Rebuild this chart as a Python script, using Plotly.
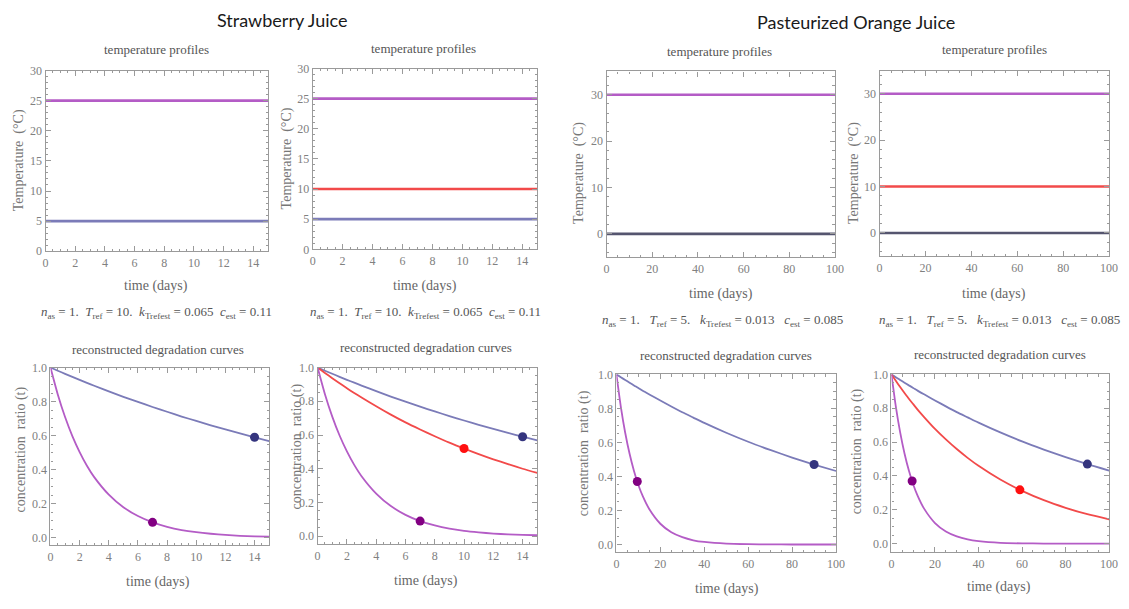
import plotly.graph_objects as go

W, H = 1129, 609

# ---- data -------------------------------------------------------------
# Strawberry juice: storage temperatures (°C) over 15 days
sj_days = [0, 15]
sj_temp_high = [25, 25]
sj_temp_mid = [10, 10]
sj_temp_low = [5, 5]

# Pasteurized orange juice: storage temperatures (°C) over 100 days
oj_days = [0, 100]
oj_temp_high = [30, 30]
oj_temp_mid = [10, 10]
oj_temp_low = [0, 0]

# Strawberry juice concentration ratio vs time
sj_t = [0, 0.5, 1, 1.5, 2, 2.5, 3, 4, 5, 6, 7, 8, 9, 10, 11, 12, 13, 14, 15]
sj_c_low = [1.000, 0.981, 0.963, 0.945, 0.927, 0.910, 0.893, 0.860, 0.828, 0.798,
            0.768, 0.740, 0.712, 0.686, 0.660, 0.636, 0.613, 0.590, 0.568]
sj_c_mid = [1.000, 0.968, 0.937, 0.907, 0.877, 0.849, 0.822, 0.770, 0.721, 0.675,
            0.633, 0.593, 0.555, 0.520, 0.487, 0.456, 0.428, 0.400, 0.375]
sj_c_high = [1.000, 0.842, 0.709, 0.597, 0.503, 0.423, 0.356, 0.253, 0.179, 0.127,
             0.090, 0.064, 0.045, 0.032, 0.023, 0.016, 0.011, 0.008, 0.006]
# measured points (day, ratio)
sj_pt_low = ([14], [0.59])
sj_pt_mid = ([10], [0.52])
sj_pt_high = ([7], [0.09])

# Orange juice concentration ratio vs time
oj_t = [0, 2, 4, 6, 8, 10, 12, 15, 20, 25, 30, 35, 40, 50, 60, 70, 80, 90, 100]
oj_c_low = [1.000, 0.983, 0.967, 0.951, 0.935, 0.920, 0.904, 0.882, 0.846, 0.811,
            0.777, 0.746, 0.715, 0.657, 0.604, 0.556, 0.511, 0.470, 0.432]
oj_c_mid = [1.000, 0.962, 0.925, 0.890, 0.856, 0.824, 0.792, 0.748, 0.678, 0.616,
            0.559, 0.507, 0.460, 0.379, 0.312, 0.257, 0.212, 0.174, 0.144]
oj_c_high = [1.000, 0.811, 0.657, 0.533, 0.432, 0.350, 0.284, 0.207, 0.122, 0.072,
             0.043, 0.025, 0.015, 0.005, 0.002, 0.001, 0.000, 0.000, 0.000]
oj_pt_low = ([90], [0.47])
oj_pt_mid = ([59], [0.318])
oj_pt_high = ([9.5], [0.37])

SP2 = "\u00a0\u00a0"
SP3 = "\u00a0\u00a0\u00a0"
sj_params = (f"<i>n</i><sub>as</sub> = 1.{SP2}<i>T</i><sub>ref</sub> = 10.{SP2}"
             f"<i>k</i><sub>Trefest</sub> = 0.065{SP2}<i>c</i><sub>est</sub> = 0.11")
oj_params = (f"<i>n</i><sub>as</sub> = 1.{SP3}<i>T</i><sub>ref</sub> = 5.{SP3}"
             f"<i>k</i><sub>Trefest</sub> = 0.013{SP3}<i>c</i><sub>est</sub> = 0.085")

# ---- styles -----------------------------------------------------------
C_BLUE = "#7b7bb8"
C_RED = "#f24a4a"
C_PURP = "#b45cc6"
C_DARK0 = "#55556f"
P_BLUE = "#34347e"
P_RED = "#ff1010"
P_PURP = "#820082"
SERIF = "Liberation Serif, Times New Roman, serif"
FRAME = "#9a9a9a"
TICKTXT = "#808080"

fig = go.Figure()

# panel frames in pixels: (left, right, top, bottom)
panels = [
    (43, 268, 65, 250),
    (313, 540, 63, 248),
    (610, 841, 66, 256),
    (886, 1118, 65, 255),
    (48, 269, 369, 551),
    (318, 540, 369, 550),
    (620, 842, 376, 558),
    (898, 1118, 376, 558),
]


def ax_name(i, a):
    return a if i == 1 else f"{a}{i}"


def add_line(i, x, y, color, width, spline=False):
    fig.add_trace(go.Scatter(
        x=x, y=y, mode="lines", xaxis=ax_name(i, "x"), yaxis=ax_name(i, "y"),
        line=dict(color=color, width=width, shape="spline" if spline else "linear",
                  smoothing=0.6),
        hoverinfo="skip", showlegend=False))


def add_point(i, pt, color):
    fig.add_trace(go.Scatter(
        x=pt[0], y=pt[1], mode="markers", xaxis=ax_name(i, "x"), yaxis=ax_name(i, "y"),
        marker=dict(color=color, size=9), hoverinfo="skip", showlegend=False))


# temperature profile panels
add_line(1, sj_days, sj_temp_high, C_PURP, 2.6)
add_line(1, sj_days, sj_temp_low, C_BLUE, 2.6)
add_line(2, sj_days, sj_temp_high, C_PURP, 2.6)
add_line(2, sj_days, sj_temp_mid, C_RED, 2.6)
add_line(2, sj_days, sj_temp_low, C_BLUE, 2.6)
add_line(3, oj_days, oj_temp_high, C_PURP, 2.6)
add_line(3, oj_days, oj_temp_low, C_DARK0, 2.6)
add_line(4, oj_days, oj_temp_high, C_PURP, 2.6)
add_line(4, oj_days, oj_temp_mid, C_RED, 2.6)
add_line(4, oj_days, oj_temp_low, C_DARK0, 2.6)

# degradation curve panels
add_line(5, sj_t, sj_c_low, C_BLUE, 1.8, True)
add_line(5, sj_t, sj_c_high, C_PURP, 1.8, True)
add_point(5, sj_pt_low, P_BLUE)
add_point(5, sj_pt_high, P_PURP)

add_line(6, sj_t, sj_c_low, C_BLUE, 1.8, True)
add_line(6, sj_t, sj_c_mid, C_RED, 1.8, True)
add_line(6, sj_t, sj_c_high, C_PURP, 1.8, True)
add_point(6, sj_pt_low, P_BLUE)
add_point(6, sj_pt_mid, P_RED)
add_point(6, sj_pt_high, P_PURP)

add_line(7, oj_t, oj_c_low, C_BLUE, 1.8, True)
add_line(7, oj_t, oj_c_high, C_PURP, 1.8, True)
add_point(7, oj_pt_low, P_BLUE)
add_point(7, oj_pt_high, P_PURP)

add_line(8, oj_t, oj_c_low, C_BLUE, 1.8, True)
add_line(8, oj_t, oj_c_mid, C_RED, 1.8, True)
add_line(8, oj_t, oj_c_high, C_PURP, 1.8, True)
add_point(8, oj_pt_low, P_BLUE)
add_point(8, oj_pt_mid, P_RED)
add_point(8, oj_pt_high, P_PURP)

# axes
x_specs = {1: ([0, 15], 2, 0.5), 2: ([0, 15], 2, 0.5), 5: ([0, 15], 2, 0.5), 6: ([0, 15], 2, 0.5),
           3: ([0, 100], 20, 5), 4: ([0, 100], 20, 5), 7: ([0, 100], 20, 5), 8: ([0, 100], 20, 5)}
y_specs = {1: ([0, 30], 5, 1, 0), 2: ([0, 30], 5, 1, 0),
           3: ([-5, 35], 10, 2, 0), 4: ([-5, 35], 10, 2, 0),
           5: ([-0.045, 1.0], 0.2, 0.05, 0), 6: ([-0.048, 1.0], 0.2, 0.05, 0),
           7: ([-0.045, 1.0], 0.2, 0.05, 0), 8: ([-0.05, 1.0], 0.2, 0.05, 0)}

common = dict(showline=True, linecolor=FRAME, linewidth=1.2, mirror="ticks",
              ticks="inside", ticklen=5, tickwidth=1, tickcolor=FRAME,
              showgrid=False, zeroline=False, fixedrange=True,
              tickfont=dict(family=SERIF, size=12, color=TICKTXT))

layout = {}
for i, (l, r, t, b) in enumerate(panels, start=1):
    xr, xd, xm = x_specs[i]
    yr, yd, ym, y0 = y_specs[i]
    xk = "xaxis" if i == 1 else f"xaxis{i}"
    yk = "yaxis" if i == 1 else f"yaxis{i}"
    layout[xk] = dict(common, domain=[l / W, r / W], range=xr, tick0=0, dtick=xd,
                      anchor=ax_name(i, "y"),
                      minor=dict(ticks="inside", ticklen=2.5, tickcolor=FRAME, dtick=xm, tick0=0))
    layout[yk] = dict(common, domain=[1 - b / H, 1 - t / H], range=yr, tick0=y0, dtick=yd,
                      anchor=ax_name(i, "x"),
                      minor=dict(ticks="inside", ticklen=2.5, tickcolor=FRAME, dtick=ym, tick0=0))
    if i >= 5:
        layout[yk]["tickformat"] = ".1f"

fig.update_layout(**layout)

ann = []


def text(x, y, s, size, color, family=SERIF, angle=0):
    ann.append(dict(x=x / W, y=1 - y / H, xref="paper", yref="paper", text=s,
                    showarrow=False, xanchor="center", yanchor="middle", textangle=angle,
                    font=dict(family=family, size=size, color=color)))


# group headings
text(283, 13, "Strawberry Juice", 18, "#1a1a1a", family="Lato, sans-serif")
text(862, 15, "Pasteurized Orange Juice", 18, "#1a1a1a", family="Lato, sans-serif")

# panel titles
for cx, cy in [(155, 44), (425, 42), (724, 46), (1002, 44)]:
    text(cx, cy, "temperature profiles", 13, "#555555")
for cx, cy in [(157, 351), (428, 348), (731, 357), (1008, 356)]:
    text(cx, cy, "reconstructed degradation curves", 13, "#555555")

# x-axis titles
for cx, cy in [(155, 286), (427, 286), (726, 294), (1002, 294),
               (157, 589), (428, 587), (732, 596), (1007, 594)]:
    text(cx, cy, "time (days)", 14, "#666666")

# y-axis titles
for cx, cy in [(17, 157), (287, 155), (582, 170), (860, 170)]:
    text(cx, cy, "Temperature\u00a0\u00a0(°C)", 14, "#777777", angle=-90)
for cx, cy in [(18, 453), (297, 450), (588, 457), (863, 455)]:
    text(cx, cy, "concentration\u00a0\u00a0ratio (t)", 14, "#777777", angle=-90)

# parameter lines
text(155, 313, sj_params, 13, "#555555")
text(427, 313, sj_params, 13, "#555555")
text(727, 321, oj_params, 13, "#555555")
text(1007, 321, oj_params, 13, "#555555")

fig.update_layout(annotations=ann, width=W, height=H,
                  margin=dict(l=0, r=0, t=0, b=0),
                  paper_bgcolor="white", plot_bgcolor="white")

fig.write_html("out.html")
